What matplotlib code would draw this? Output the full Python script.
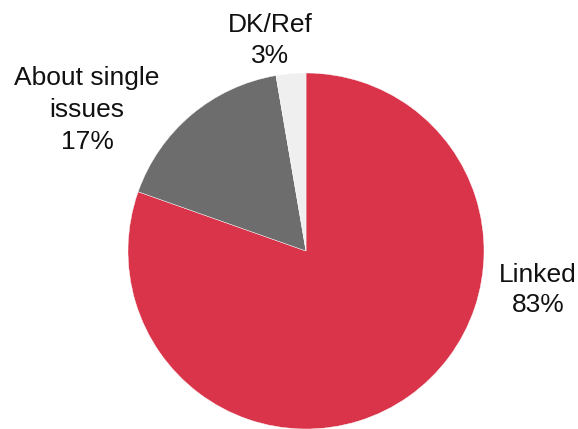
import matplotlib
matplotlib.use("Agg")
import matplotlib.pyplot as plt

categories = ["Linked", "About single issues", "DK/Ref"]
values = [80.4, 16.9, 2.7]
pct_labels = ["83%", "17%", "3%"]
colors = ["#D9344A", "#6D6D6D", "#EFEFEF"]

W, H = 578, 429
cx, cy, r = 306, 251, 178

fig = plt.figure(figsize=(W / 100, H / 100), dpi=100)
ax = fig.add_axes([0, 0, 1, 1])
ax.pie(values, colors=colors, startangle=90, counterclock=False, radius=1,
       wedgeprops=dict(edgecolor="white", linewidth=0.3))
ax.set_aspect("auto")
ax.set_xlim(-cx / r, (W - cx) / r)
ax.set_ylim(-(H - cy) / r, cy / r)
ax.axis("off")

font = dict(family=["Liberation Sans", "DejaVu Sans"], fontsize=19, color="#111111")

def px(x, y):
    return (x - cx) / r, (cy - y) / r

# label lines: (category, center x px, list of baselines px)
label_layout = {
    "Linked": (538, [282, 312], ["Linked"]),
    "About single issues": (87, [85, 117, 149], ["About single", "issues"]),
    "DK/Ref": (270.5, [32, 63.5], ["DK/Ref"]),
}
for cat, pct in zip(categories, pct_labels):
    x, baselines, lines = label_layout[cat]
    lines = lines + [pct]
    for line, by in zip(lines, baselines):
        ax.text(*px(x, by), line, ha="center", va="baseline", **font)

fig.savefig("out.png", dpi=100)
